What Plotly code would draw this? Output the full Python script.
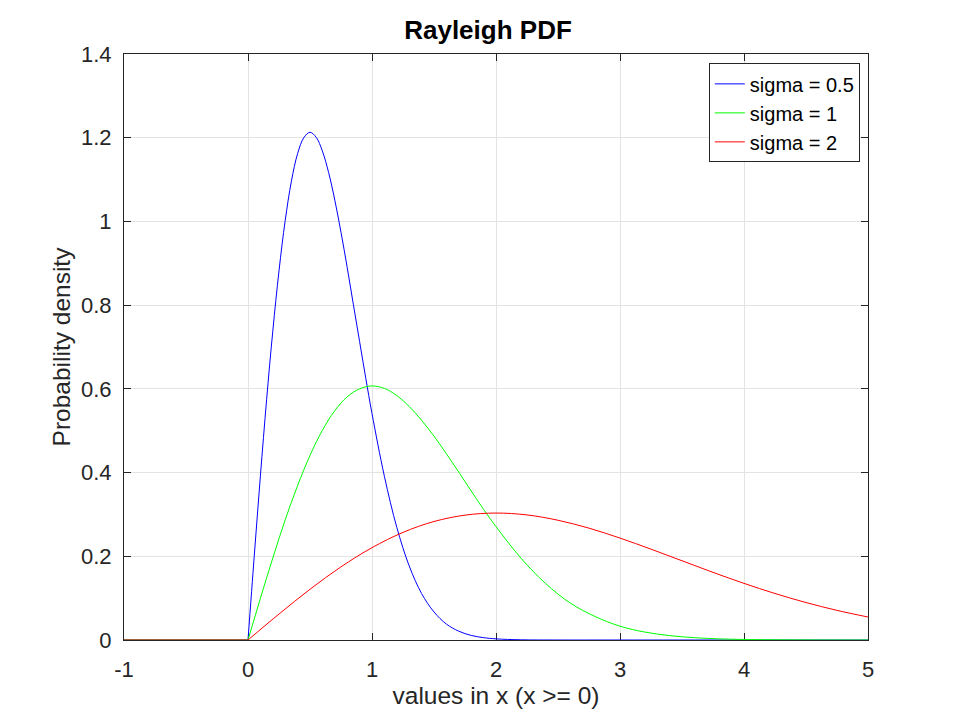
import plotly.graph_objects as go

# Rayleigh PDF curves
x_half = [-1, 0, None, 0, 0.05, 0.1, 0.15, 0.2, 0.25, 0.3, 0.35, 0.4, 0.45, 0.5, 0.55, 0.6,
          0.65, 0.7, 0.75, 0.8, 0.85, 0.9, 0.95, 1.0, 1.1, 1.2, 1.3, 1.4, 1.5, 1.6, 1.7,
          1.8, 1.9, 2.0, 2.2, 2.5, 3.0, 4.0, 5.0]
y_half = [0, 0, None, 0, 0.199, 0.392, 0.574, 0.738, 0.882, 1.002, 1.096, 1.162, 1.200, 1.213,
          1.201, 1.168, 1.117, 1.051, 0.974, 0.890, 0.801, 0.713, 0.625, 0.541, 0.391,
          0.269, 0.177, 0.111, 0.067, 0.038, 0.021, 0.011, 0.0056, 0.0027, 0.0005,
          0, 0, 0, 0]

x_one = [-1, 0, None, 0, 0.1, 0.2, 0.3, 0.4, 0.5, 0.6, 0.7, 0.8, 0.9, 1.0, 1.1, 1.2, 1.3,
         1.4, 1.5, 1.6, 1.7, 1.8, 1.9, 2.0, 2.2, 2.4, 2.6, 2.8, 3.0, 3.2, 3.4, 3.6, 3.8,
         4.0, 4.5, 5.0]
y_one = [0, 0, None, 0, 0.0995, 0.196, 0.287, 0.369, 0.441, 0.501, 0.548, 0.581, 0.600, 0.607,
         0.601, 0.584, 0.558, 0.525, 0.487, 0.445, 0.401, 0.356, 0.312, 0.271, 0.196,
         0.135, 0.088, 0.056, 0.033, 0.019, 0.0105, 0.0055, 0.0028, 0.0013, 0.0002, 0]

x_two = [-1, 0, None, 0, 0.25, 0.5, 0.75, 1.0, 1.25, 1.5, 1.75, 2.0, 2.25, 2.5, 2.75, 3.0,
         3.25, 3.5, 3.75, 4.0, 4.25, 4.5, 4.75, 5.0]
y_two = [0, 0, None, 0, 0.0620, 0.1212, 0.1748, 0.2206, 0.2571, 0.2831, 0.2983, 0.3033,
         0.2988, 0.2861, 0.2672, 0.2435, 0.2170, 0.1893, 0.1616, 0.1353, 0.1111, 0.0895,
         0.0708, 0.0549]

names = ["sigma = 0.5", "sigma = 1", "sigma = 2"]
colors = ["#0000ff", "#00ff00", "#ff0000"]

x_ticks = [-1, 0, 1, 2, 3, 4, 5]
y_ticks = [0, 0.2, 0.4, 0.6, 0.8, 1, 1.2, 1.4]

FONT = "Liberation Sans, Arial, sans-serif"
INK = "#262626"

fig = go.Figure()
for xs, ys, nm, c in zip([x_half, x_one, x_two], [y_half, y_one, y_two], names, colors):
    fig.add_trace(go.Scatter(x=xs, y=ys, name=nm, mode="lines", cliponaxis=False,
                             line=dict(color=c, width=1, shape="spline", smoothing=1.0)))

axis_style = dict(showline=True, linecolor=INK, linewidth=1, mirror="ticks",
                  ticks="inside", ticklen=7, tickcolor=INK, layer="below traces",
                  showgrid=True, gridcolor="#e3e3e3", gridwidth=1, zeroline=False,
                  tickfont=dict(size=22, color=INK, family=FONT))

fig.update_xaxes(range=[-1, 5], tickvals=x_ticks, ticktext=[str(t) for t in x_ticks],
                 ticklabelstandoff=10,
                 title=dict(text="values in x (x >= 0)", standoff=0,
                            font=dict(size=24.5, color=INK, family=FONT)),
                 **axis_style)
fig.update_yaxes(range=[0, 1.4], tickvals=y_ticks, ticktext=[f"{t:g}" for t in y_ticks],
                 ticklabelstandoff=7,
                 title=dict(text="Probability density", standoff=3,
                            font=dict(size=24.5, color=INK, family=FONT)),
                 **axis_style)

# the page body adds an 8px offset, so the margins are shifted to compensate
fig.update_layout(
    width=960, height=720,
    paper_bgcolor="white", plot_bgcolor="white",
    margin=dict(l=116, r=100, t=46, b=88),
    title=dict(text="<b>Rayleigh PDF</b>", x=0.5, xanchor="center", y=0.969, yanchor="middle",
               font=dict(size=26, color="black", family=FONT)),
    font=dict(family=FONT, color=INK),
    legend=dict(x=0.989, y=0.984, xanchor="right", yanchor="top",
                bgcolor="white", bordercolor=INK, borderwidth=1,
                font=dict(size=20, color="black", family=FONT),
                tracegroupgap=0, itemwidth=30),
    showlegend=True,
)

fig.write_html("out.html")
